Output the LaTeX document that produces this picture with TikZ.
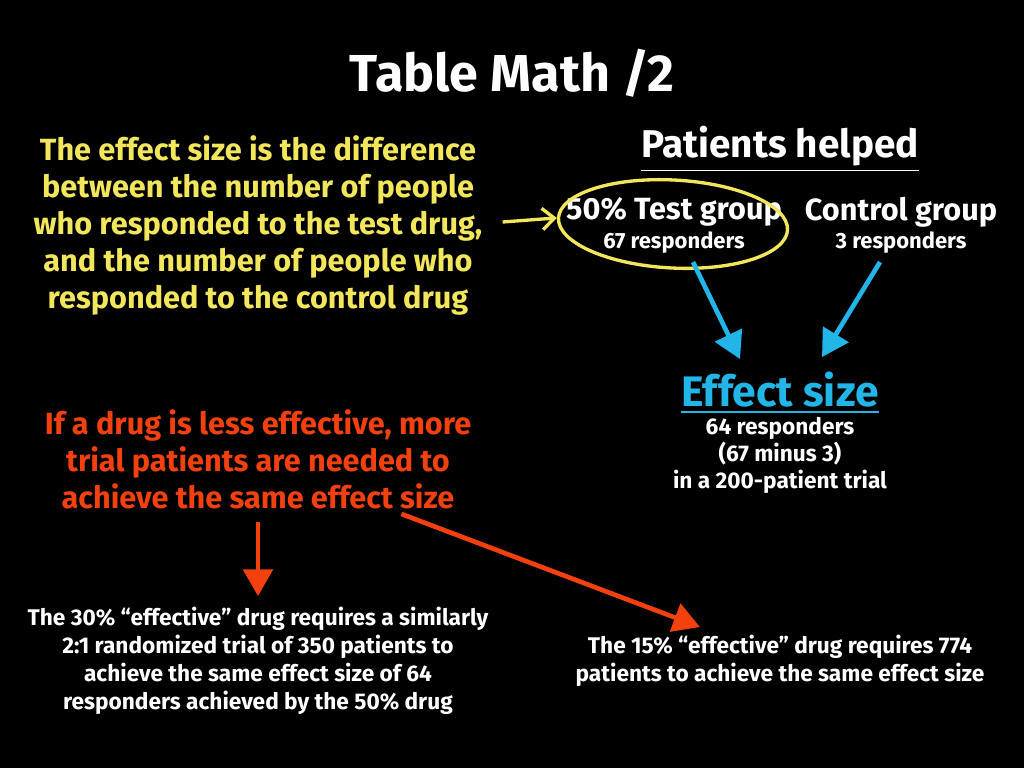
\documentclass[tikz,border=0pt]{standalone}
\usepackage{fontspec}
\setmainfont{Fira Sans}
\usetikzlibrary{arrows.meta,shapes.geometric,calc}
\definecolor{chalkyellow}{HTML}{F2E65C}
\definecolor{chalkred}{HTML}{F2400F}
\definecolor{chalkblue}{HTML}{22B5E8}
\begin{document}
\begin{tikzpicture}[x=0.75pt,y=-0.75pt,
  txt/.style={text=white,inner sep=0pt,align=center},
  fs/.style n args={2}{font={\fontsize{#1}{#2}\selectfont\bfseries}},
  bluearrow/.style={draw=chalkblue,line width=3.5pt,-{Triangle[length=20pt,width=22pt]}},
  redarrow/.style={draw=chalkred,line width=3.5pt,-{Triangle[length=20pt,width=22pt]}},
  yellowarrow/.style={draw=chalkyellow,line width=2.5pt,-{Straight Barb[length=9pt,width=16pt,line width=2.5pt]}},
  ul/.style={draw=white,line width=1pt}]
\fill[black] (0,0) rectangle (1024,768);
\useasboundingbox (0,0) rectangle (1024,768);

\node[txt,fs={39}{44}] (title) at (512,73) {Table Math /2};

\node[txt,fs={23}{27.75},text=chalkyellow] (ytext) at (258,225)
 {The effect size is the difference\\between the number of people\\who responded to the test drug,\\and the number of people who\\responded to the control drug};

\node[txt,fs={23}{27.75},text=chalkred] (rtext) at (258,459)
 {If a drug is less effective, more\\trial patients are needed to\\achieve the same effect size};

\node[txt,fs={29}{34}] (helped) at (780,146) {Patients helped};
\draw[ul] ($(helped.south west)+(0,4)$) -- ($(helped.south east)+(0,4)$);

\node[txt,fs={23}{27}] (test) at (674,212) {50\% Test group};
\node[txt,fs={16.5}{20}] (testn) at (674,243) {67 responders};
\node[txt,fs={23}{27}] (control) at (901,212) {Control group};
\node[txt,fs={16.5}{20}] (controln) at (901,243) {3 responders};

\node[draw=chalkyellow,line width=2.5pt,ellipse,minimum width=172pt,minimum height=66pt,inner sep=0pt,rotate=-3] (ell) at (673,224) {};

\draw[yellowarrow] ($(ytext.east)+(20,-3)$) -- (ell.west);

\node[txt,fs={32}{36},text=chalkblue] (effect) at (780,390) {Effect size};
\draw[draw=chalkblue,line width=1pt] ($(effect.south west)+(0,4)$) -- ($(effect.south east)+(0,4)$);

\node[txt,fs={17}{20.25}] (effectn) at (780,455)
 {64 responders\\(67 minus 3)\\in a 200-patient trial};

\draw[bluearrow] ($(testn.south)+(19,8)$) -- ($(effect.north)+(-40,-13)$);
\draw[bluearrow] ($(controln.south)+(-21,8)$) -- ($(effect.north)+(42,-15)$);

\node[txt,fs={17}{21}] (bl) at (258,661)
 {The 30\% “effective” drug requires a similarly\\2:1 randomized trial of 350 patients to\\achieve the same effect size of 64\\responders achieved by the 50\% drug};

\node[txt,fs={17}{21}] (br) at (780,661)
 {The 15\% “effective” drug requires 774\\patients to achieve the same effect size};

\draw[redarrow] ($(rtext.south)+(0,13)$) -- ($(bl.north)+(0,-11)$);
\draw[redarrow] ($(rtext.south east)+(-70,5)$) -- ($(br.north)+(-80,-8)$);
\end{tikzpicture}
\end{document}
